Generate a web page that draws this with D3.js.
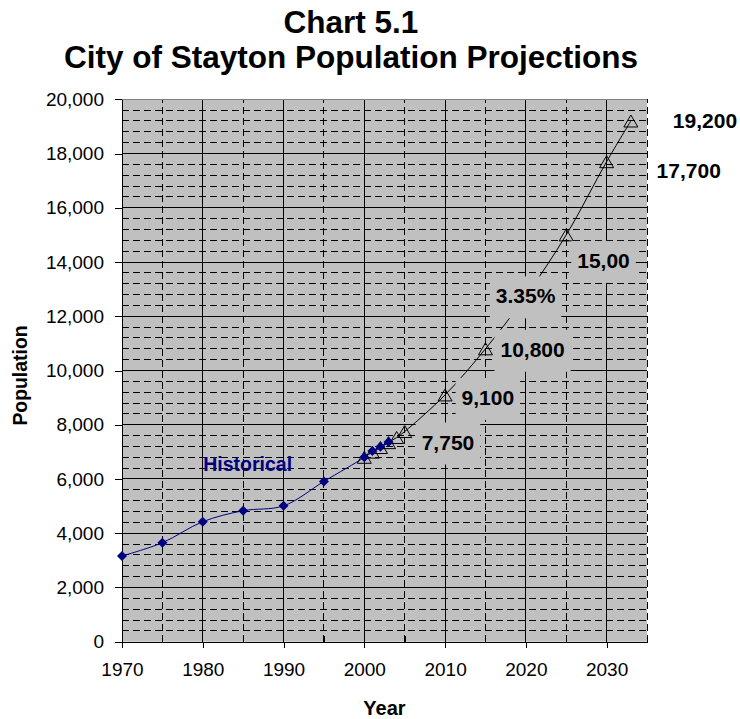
<!DOCTYPE html>
<html>
<head>
<meta charset="utf-8">
<script src="https://cdn.jsdelivr.net/npm/d3@7"></script>
<style>
  body { margin: 0; background: #fff; }
  svg { display: block; font-family: "Liberation Sans", Arial, sans-serif; }
</style>
</head>
<body>
<svg width="740" height="719"></svg>
<script>
// data
let histYears = [1970, 1975, 1980, 1985, 1990, 1995, 2000, 2001, 2002, 2003]
let histPop = [3160, 3650, 4425, 4830, 5010, 5910, 6800, 7030, 7190, 7360]

let projYears = [2000, 2001, 2002, 2003, 2004, 2005, 2010, 2015, 2020, 2025, 2030, 2033]
let projPop = [6800, 6990, 7160, 7340, 7530, 7750, 9100, 10800, 12750, 15000, 17700, 19200]
let projLabels = [null, null, null, null, null, "7,750", "9,100", "10,800", "3.35%", "15,00", "17,700", "19,200"]

let yMajor = d3.range(0, 20001, 2000)
let yMinor = d3.range(400, 20000, 400).filter(v => v % 2000 != 0)
let xMajor = d3.range(1970, 2031, 10)
let xMinor = d3.range(1975, 2036, 10)

let width = 740
let height = 719
let margin = { top: 99.3, right: 93, bottom: 77.3, left: 122 }

let svg = d3.select("svg")

let x = d3.scaleLinear()
    .domain([1970, 2035])
    .range([margin.left, width - margin.right])

let y = d3.scaleLinear()
    .domain([0, 20000])
    .range([height - margin.bottom, margin.top])

let x0 = x.range()[0], x1 = x.range()[1]
let y0 = y.range()[0], y1 = y.range()[1]

// plot background
svg.append("rect")
    .attr("x", x0).attr("y", y1)
    .attr("width", x1 - x0).attr("height", y0 - y1)
    .style("fill", "#c0c0c0")

let grid = svg.append("g").attr("class", "grid")
    .style("shape-rendering", "crispEdges")

// dashed minor grid
grid.selectAll(".hminor").data(yMinor).join("line")
    .attr("x1", x0).attr("x2", x1)
    .attr("y1", d => y(d)).attr("y2", d => y(d))
    .style("stroke", "#000").style("stroke-dasharray", "7,4")

grid.selectAll(".vminor").data(xMinor).join("line")
    .attr("x1", d => x(d)).attr("x2", d => x(d))
    .attr("y1", y0).attr("y2", y1)
    .style("stroke", "#000").style("stroke-dasharray", "7,4")

// solid major grid
grid.selectAll(".hmajor").data(yMajor.filter(v => v > 0 && v < 20000)).join("line")
    .attr("x1", x0).attr("x2", x1)
    .attr("y1", d => y(d)).attr("y2", d => y(d))
    .style("stroke", "#000")

grid.selectAll(".vmajor").data(xMajor.filter(v => v > 1970)).join("line")
    .attr("x1", d => x(d)).attr("x2", d => x(d))
    .attr("y1", y0).attr("y2", y1)
    .style("stroke", "#000")

// top border
grid.append("line")
    .attr("x1", x0).attr("x2", x1)
    .attr("y1", y1).attr("y2", y1)
    .style("stroke", "#808080")

// axes
let yAxisSettings = d3.axisLeft(y)
    .tickValues(yMajor)
    .tickSize(7)
    .tickSizeOuter(0)
    .tickPadding(11)
    .tickFormat(d3.format(","))

let xAxisSettings = d3.axisBottom(x)
    .tickValues(xMajor)
    .tickSize(6)
    .tickSizeOuter(0)
    .tickPadding(15)
    .tickFormat(d3.format("d"))

svg.append("g")
    .attr("class", "y axis")
    .attr("transform", `translate(${x0},0)`)
    .call(yAxisSettings)

svg.append("g")
    .attr("class", "x axis")
    .attr("transform", `translate(0,${y0})`)
    .call(xAxisSettings)

// minor ticks on x axis point inward
svg.append("g")
    .attr("class", "minor")
    .attr("transform", `translate(0,${y0})`)
    .call(d3.axisBottom(x).tickValues(xMinor.filter(v => v < 2035)).tickSize(-6).tickSizeOuter(0).tickFormat(""))
    .select(".domain").remove()

svg.selectAll(".axis text")
    .style("font-family", "'Liberation Sans', Arial, sans-serif")
    .style("font-size", "19px")
    .style("fill", "#000")
svg.selectAll(".axis line, .axis .domain, .minor line")
    .style("stroke", "#000")
    .style("shape-rendering", "crispEdges")

// lines
let line = d3.line()
    .x(d => x(d.year))
    .y(d => y(d.pop))
    .curve(d3.curveCatmullRom)

let hist = histYears.map((yr, i) => ({ year: yr, pop: histPop[i] }))
let proj = projYears.map((yr, i) => ({ year: yr, pop: projPop[i], label: projLabels[i] }))

svg.append("path")
    .datum(proj)
    .attr("d", line)
    .style("fill", "none")
    .style("stroke", "#000")
    .style("stroke-width", 1)

svg.append("path")
    .datum(hist)
    .attr("d", line)
    .style("fill", "none")
    .style("stroke", "#000080")
    .style("stroke-width", 1)

svg.selectAll(".tri").data(proj).join("path")
    .attr("class", "tri")
    .attr("transform", d => `translate(${x(d.year)},${y(d.pop)})`)
    .attr("d", "M0,-6L7,6L-7,6Z")
    .style("fill", "none")
    .style("stroke", "#000")
    .style("stroke-width", 1)

svg.selectAll(".dia").data(hist).join("path")
    .attr("class", "dia")
    .attr("transform", d => `translate(${x(d.year)},${y(d.pop)})`)
    .attr("d", "M0,-5L5,0L0,5L-5,0Z")
    .style("fill", "#000080")

// data labels with boxes hiding what is behind them
let labelOffset = {
    2005: [17, 18], 2010: [16.5, 10], 2015: [15, 8], 2020: [-30, 7.4],
    2025: [11, 33], 2030: [50, 16.6], 2033: [42, 7]
}

let labels = svg.append("g").attr("class", "labels")

proj.filter(d => d.label).forEach(function (d) {
    let off = labelOffset[d.year]
    let lx = x(d.year) + off[0]
    let ly = y(d.pop) + off[1]
    let g = labels.append("g")
    let box = g.append("rect")
    let t = g.append("text")
        .attr("x", lx)
        .attr("y", ly)
        .text(d.label)
        .style("font-size", "21px")
        .style("font-weight", "bold")
        .style("fill", "#000")
    let w = t.node().getComputedTextLength()
    let inside = lx < x1
    box.attr("x", lx - 6)
        .attr("y", ly - 27)
        .attr("width", inside ? Math.min(w + 12, x1 - (lx - 6)) : w + 12)
        .attr("height", 42)
        .style("fill", inside ? "#c0c0c0" : "#fff")
})

svg.append("text")
    .attr("x", x(1980) + 0.5)
    .attr("y", y(6300))
    .text("Historical")
    .style("font-size", "19.5px")
    .style("font-weight", "bold")
    .style("fill", "#000080")

// titles
let title = svg.append("text")
    .attr("text-anchor", "middle")
    .style("font-size", "31.5px")
    .style("font-weight", "bold")
title.append("tspan").attr("x", 351).attr("y", 33.3).text("Chart 5.1")
title.append("tspan").attr("x", 351).attr("y", 68.3).text("City of Stayton Population Projections")

svg.append("text")
    .attr("text-anchor", "middle")
    .attr("x", (x0 + x1) / 2)
    .attr("y", 715)
    .text("Year")
    .style("font-size", "20px")
    .style("font-weight", "bold")

svg.append("text")
    .attr("text-anchor", "middle")
    .attr("transform", `translate(27,${(y0 + y1) / 2 + 5}) rotate(-90)`)
    .text("Population")
    .style("font-size", "19.4px")
    .style("font-weight", "bold")
</script>
</body>
</html>
